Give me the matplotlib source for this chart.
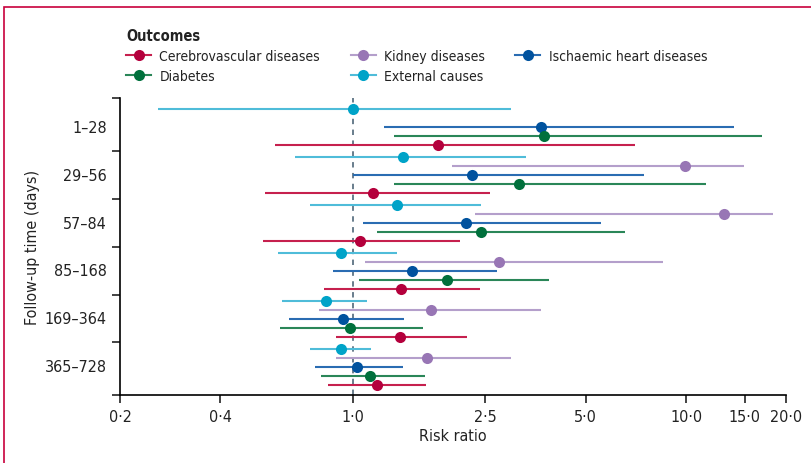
import numpy as np
import matplotlib.pyplot as plt
from matplotlib.patches import Rectangle
from matplotlib.lines import Line2D

plt.rcParams['font.family'] = ['DejaVu Sans']
plt.rcParams['font.stretch'] = 'condensed'

groups = ['1–28', '29–56', '57–84', '85–168', '169–364', '365–728']

# risk ratio, lower and upper limit per follow-up window (nan = no estimate)
ext_rr = [1.00, 1.415, 1.36, 0.918, 0.828, 0.923]
ext_lo = [0.260, 0.668, 0.741, 0.596, 0.612, 0.743]
ext_hi = [2.985, 3.30, 2.42, 1.36, 1.106, 1.137]

kid_rr = [np.nan, 9.93, 12.97, 2.75, 1.718, 1.667]
kid_lo = [np.nan, 1.99, 2.33, 1.089, 0.792, 0.887]
kid_hi = [np.nan, 14.9, 18.2, 8.55, 3.68, 2.98]

ihd_rr = [3.66, 2.27, 2.19, 1.506, 0.933, 1.028]
ihd_lo = [1.244, 1.00, 1.076, 0.873, 0.641, 0.769]
ihd_hi = [13.9, 7.48, 5.55, 2.71, 1.42, 1.409]

dia_rr = [3.74, 3.16, 2.43, 1.91, 0.981, 1.129]
dia_lo = [1.327, 1.327, 1.185, 1.042, 0.605, 0.803]
dia_hi = [16.9, 11.5, 6.55, 3.87, 1.62, 1.644]

cer_rr = [1.80, 1.148, 1.05, 1.396, 1.387, 1.183]
cer_lo = [0.582, 0.543, 0.536, 0.819, 0.887, 0.841]
cer_hi = [7.02, 2.58, 2.10, 2.41, 2.20, 1.652]

# name, rr, lo, hi, marker colour, line colour, row within group
series = [
    ('External causes', ext_rr, ext_lo, ext_hi, '#00a3c8', '#4fbcd9', 0),
    ('Kidney diseases', kid_rr, kid_lo, kid_hi, '#9876b5', '#b49fcb', 1),
    ('Ischaemic heart diseases', ihd_rr, ihd_lo, ihd_hi, '#00529e', '#2a6cb2', 2),
    ('Diabetes', dia_rr, dia_lo, dia_hi, '#00703c', '#2a8658', 3),
    ('Cerebrovascular diseases', cer_rr, cer_lo, cer_hi, '#b4003c', '#c6204e', 4),
]

fig = plt.figure(figsize=(8.11, 4.64), dpi=100)
ax = fig.add_axes([0.148, 0.1466, 0.8216, 0.64])

gstep = 48; rstep = 9
g = np.arange(len(groups))
handles = {}
for name, rr, lo, hi, mc, lc, r in series:
    y = g*gstep + r*rstep
    ax.hlines(y, lo, hi, color=lc, lw=1.5, zorder=2)
    ax.plot(rr, y, 'o', color=mc, ms=8, mec='none', zorder=3)
    handles[name] = Line2D([], [], color=lc, lw=1.5, marker='o', ms=8,
                           mfc=mc, mec='none')

ax.axvline(1.0, color='#5d7383', lw=1.3, ls=(0, (3, 3)), zorder=1)

ax.set_xscale('log')
ax.set_xlim(0.2, 20)
xt = [0.2, 0.4, 1.0, 2.5, 5.0, 10.0, 15.0, 20.0]
ax.set_xticks(xt)
ax.set_xticklabels([('%.1f' % v).replace('.', '·') for v in xt])
ax.minorticks_off()

ax.set_ylim(286, -11)
ax.set_yticks([-11, 42, 90, 138, 186, 233, 286])
ax.set_yticklabels([])
for i, lab in enumerate(groups):
    ax.text(-0.02, (i*gstep + 18), lab, transform=ax.get_yaxis_transform(),
            ha='right', va='center', fontsize=11.5, color='#222222')

for s in ['top', 'right']:
    ax.spines[s].set_visible(False)
for s in ['left', 'bottom']:
    ax.spines[s].set_linewidth(1.2)
ax.tick_params(axis='both', length=6, width=1.2, labelsize=11.5, colors='#222222')
ax.tick_params(axis='x', pad=4)

ax.set_xlabel('Risk ratio', fontsize=11.5, labelpad=3, color='#222222')
ax.set_ylabel('Follow-up time (days)', fontsize=11.5, labelpad=48, color='#222222')

order = ['Cerebrovascular diseases', 'Diabetes', 'Kidney diseases',
         'External causes', 'Ischaemic heart diseases']
leg = fig.legend([handles[n] for n in order], order, ncol=3,
                 loc='upper left', bbox_to_anchor=(0.14, 0.965),
                 frameon=False, fontsize=10, title='Outcomes',
                 title_fontproperties={'weight': 'bold', 'size': 10.5,
                                       'stretch': 'condensed'},
                 alignment='left', handlelength=1.8, handletextpad=0.6,
                 columnspacing=2.2, labelspacing=0.45)
leg.get_title().set_color('#222222')
for t in leg.get_texts():
    t.set_color('#222222')

fig.patches.append(Rectangle((4/811, -0.1), 1.2, (464-8)/464 + 0.1,
                             transform=fig.transFigure, fill=False,
                             ec='#c8003c', lw=1.2))

fig.savefig('out.png', dpi=100)
